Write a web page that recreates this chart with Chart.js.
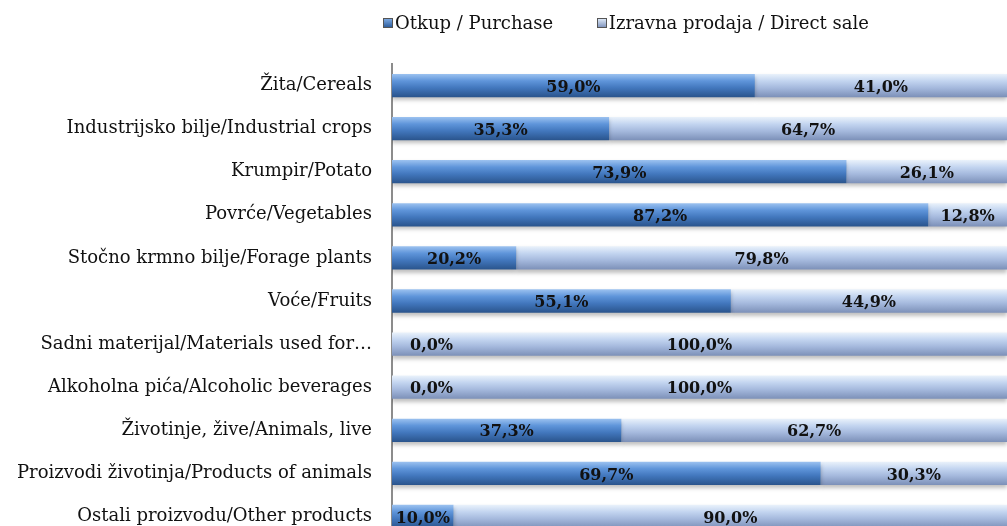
<!DOCTYPE html>
<html>
<head>
<meta charset="utf-8">
<script src="https://cdn.jsdelivr.net/npm/chart.js@4"></script>
<style>
  html, body { margin: 0; padding: 0; background: #fff; overflow: hidden; }
  #wrap { position: relative; width: 1007px; height: 580px; }
  #chart { display: block; width: 1007px; height: 580px; }
  #legend { position: absolute; top: 12px; left: 383px; font-family: 'DejaVu Serif', serif; font-size: 18px; color: #111; white-space: nowrap; }
  #legend span.item { margin-right: 38px; }
  #legend i { display: inline-block; width: 10px; height: 10px; margin-right: 2px; vertical-align: 1px; border: 1px solid #555; box-sizing: border-box; }
</style>
</head>
<body>
<div id="wrap">
  <div id="legend">
    <span class="item"><i style="background:linear-gradient(#7aa7e0,#2f5f9e)"></i>Otkup / Purchase</span>
    <span class="item"><i style="background:linear-gradient(#dbe7f7,#8397bf)"></i>Izravna prodaja / Direct sale</span>
  </div>
  <canvas id="chart" width="1007" height="580"></canvas>
</div>
<script>
const categories = [
  'Žita/Cereals',
  'Industrijsko bilje/Industrial crops',
  'Krumpir/Potato',
  'Povrće/Vegetables',
  'Stočno krmno bilje/Forage plants',
  'Voće/Fruits',
  'Sadni materijal/Materials used for…',
  'Alkoholna pića/Alcoholic beverages',
  'Životinje, žive/Animals, live',
  'Proizvodi životinja/Products of animals',
  'Ostali proizvodu/Other products'
];
const purchase = [59.0, 35.3, 73.9, 87.2, 20.2, 55.1, 0.0, 0.0, 37.3, 69.7, 10.0];
const directSale = [41.0, 64.7, 26.1, 12.8, 79.8, 44.9, 100.0, 100.0, 62.7, 30.3, 90.0];

const ctx = document.getElementById('chart').getContext('2d');
const BAR_PCT = 0.54;

// vertical gradient per bar, from the y scale position of its category
function barGradient(context, stops) {
  const chart = context.chart;
  const ys = chart.scales && chart.scales.y;
  if (!ys || !chart.chartArea || context.dataIndex === undefined) return stops[2];
  const cy = ys.getPixelForValue(context.dataIndex);
  const h = (chart.chartArea.height / categories.length) * BAR_PCT;
  const g = chart.ctx.createLinearGradient(0, cy - h / 2, 0, cy + h / 2);
  g.addColorStop(0, stops[0]);
  g.addColorStop(0.3, stops[1]);
  g.addColorStop(0.6, stops[2]);
  g.addColorStop(1, stops[3]);
  return g;
}

const shadowPlugin = {
  id: 'shadow',
  beforeDatasetsDraw(chart) {
    const c = chart.ctx;
    c.save();
    c.shadowColor = 'rgba(0,0,0,0.25)';
    c.shadowBlur = 4;
    c.shadowOffsetY = 3;
  },
  afterDatasetsDraw(chart) {
    chart.ctx.restore();
  }
};

// percentage labels inside segments
const labelPlugin = {
  id: 'labels',
  afterDatasetsDraw(chart) {
    const c = chart.ctx;
    const left = chart.chartArea.left;
    c.save();
    c.font = 'bold 16px "DejaVu Serif", serif';
    c.fillStyle = '#111';
    c.textAlign = 'center';
    c.textBaseline = 'middle';
    chart.data.datasets.forEach((ds, di) => {
      chart.getDatasetMeta(di).data.forEach((bar, i) => {
        const v = ds.data[i];
        const txt = v.toFixed(1).replace('.', ',') + '%';
        const w = c.measureText(txt).width;
        let x = (bar.base + bar.x) / 2;
        if (x < left + w / 2) x = left + w / 2 + 18;
        c.fillText(txt, x, bar.y + 2);
      });
    });
    c.restore();
  }
};

new Chart(ctx, {
  type: 'bar',
  data: {
    labels: categories,
    datasets: [
      {
        label: 'Otkup / Purchase',
        data: purchase,
        backgroundColor: (c) => barGradient(c, ['#9cc2f0', '#5f95da', '#4277bd', '#2a548c']),
        borderWidth: 0,
        barPercentage: BAR_PCT,
        categoryPercentage: 1
      },
      {
        label: 'Izravna prodaja / Direct sale',
        data: directSale,
        backgroundColor: (c) => barGradient(c, ['#eaf2fb', '#c3d5f0', '#a5b9dd', '#7c90b8']),
        borderWidth: 0,
        barPercentage: BAR_PCT,
        categoryPercentage: 1
      }
    ]
  },
  options: {
    indexAxis: 'y',
    responsive: false,
    maintainAspectRatio: false,
    animation: false,
    layout: { padding: { top: 64, right: 0, left: 0, bottom: 42 } },
    plugins: {
      legend: { display: false },
      tooltip: { enabled: false }
    },
    scales: {
      x: {
        stacked: true,
        min: 0,
        max: 100,
        display: false
      },
      y: {
        stacked: true,
        grid: { display: false, drawTicks: false },
        border: { display: true, color: '#8c8c8c', width: 2 },
        afterFit(scale) { scale.width = 392; },
        ticks: {
          color: '#111',
          padding: 20,
          font: { family: '"DejaVu Serif", serif', size: 18 }
        }
      }
    }
  },
  plugins: [shadowPlugin, labelPlugin]
});
</script>
</body>
</html>
